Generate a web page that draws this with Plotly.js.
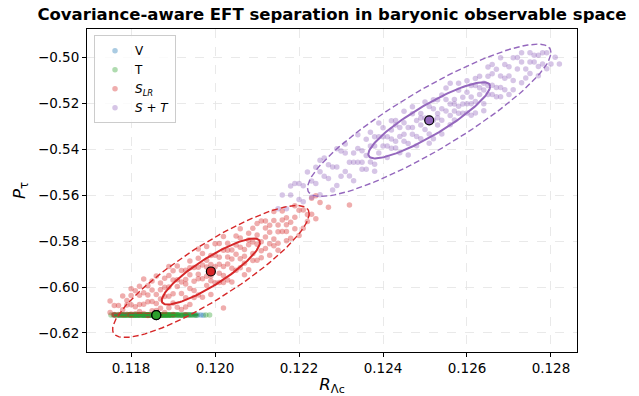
<!DOCTYPE html>
<html><head><meta charset="utf-8">
<script src="https://cdn.plot.ly/plotly-3.0.1.min.js"></script>
<style>html,body{margin:0;padding:0;background:#fff}</style>
</head><body><div id="chart" style="width:639px;height:396px"></div>
<script>
// ---- data ----
const legendNames = ["V", "T", "<i>S</i><sub><i>LR</i></sub>", "<i>S</i> + <i>T</i>"];
const meanR = [0.1186, 0.1186, 0.1199, 0.1251];
const meanP = [-0.6122, -0.6122, -0.5932, -0.5273];
const sigmaR = [0.0005, 0.0005, 0.00117, 0.00145];
const sigmaP = [0.00008, 0.00008, 0.01438, 0.0166];
const corrRP = [0.5, 0.5, 0.875, 0.888];

const vPoints = [[0.11760,-0.6122],[0.11772,-0.6122],[0.11785,-0.6121],[0.11797,-0.6122],[0.11808,-0.6123],[0.11818,-0.6122],[0.11829,-0.6122],[0.11839,-0.6121],[0.11848,-0.6122],[0.11857,-0.6122],[0.11866,-0.6123],[0.11875,-0.6122],[0.11884,-0.6122],[0.11893,-0.6121],[0.11902,-0.6122],[0.11911,-0.6122],[0.11920,-0.6123],[0.11929,-0.6122],[0.11938,-0.6122],[0.11946,-0.6121],[0.11953,-0.6122],[0.11959,-0.6122],[0.11966,-0.6122],[0.11972,-0.6123]];

const tPoints = [[0.11752,-0.6122],[0.11758,-0.6122],[0.11761,-0.6121],[0.11767,-0.6122],[0.11769,-0.6123],[0.11774,-0.6122],[0.11776,-0.6122],[0.11780,-0.6121],[0.11781,-0.6122],[0.11785,-0.6122],[0.11787,-0.6123],[0.11790,-0.6122],[0.11792,-0.6122],[0.11795,-0.6121],[0.11797,-0.6122],[0.11800,-0.6122],[0.11802,-0.6123],[0.11805,-0.6122],[0.11807,-0.6122],[0.11810,-0.6121],[0.11812,-0.6122],[0.11813,-0.6122],[0.11816,-0.6123],[0.11819,-0.6122],[0.11821,-0.6122],[0.11824,-0.6121],[0.11826,-0.6122],[0.11828,-0.6122],[0.11831,-0.6123],[0.11833,-0.6122],[0.11836,-0.6122],[0.11838,-0.6121],[0.11841,-0.6122],[0.11843,-0.6122],[0.11846,-0.6123],[0.11848,-0.6122],[0.11851,-0.6122],[0.11853,-0.6121],[0.11856,-0.6122],[0.11858,-0.6122],[0.11861,-0.6123],[0.11863,-0.6122],[0.11866,-0.6122],[0.11869,-0.6121],[0.11872,-0.6122],[0.11874,-0.6122],[0.11877,-0.6123],[0.11880,-0.6122],[0.11883,-0.6122],[0.11886,-0.6121],[0.11889,-0.6122],[0.11892,-0.6122],[0.11895,-0.6123],[0.11898,-0.6122],[0.11902,-0.6122],[0.11906,-0.6121],[0.11910,-0.6122],[0.11914,-0.6122],[0.11919,-0.6123],[0.11924,-0.6122],[0.11929,-0.6122],[0.11935,-0.6121],[0.11941,-0.6122],[0.11948,-0.6122],[0.11956,-0.6123],[0.11978,-0.6122],[0.11987,-0.6122],
[0.11778,-0.6122],[0.11793,-0.6122],[0.11808,-0.6122],[0.11818,-0.6121],[0.11827,-0.6122],[0.11835,-0.6123],[0.11844,-0.6122],[0.11852,-0.6122],[0.11860,-0.6121],[0.11868,-0.6122],[0.11876,-0.6122],[0.11884,-0.6123],[0.11893,-0.6122],[0.11901,-0.6122],[0.11912,-0.6121],[0.11922,-0.6122],[0.11932,-0.6122],[0.11944,-0.6122],[0.11815,-0.6122],[0.11840,-0.6122],[0.11865,-0.6122],[0.11888,-0.6122],[0.11771,-0.6122],[0.11800,-0.6121],
[0.11763,-0.6122],[0.11777,-0.6121],[0.11783,-0.6123],[0.11789,-0.6122],[0.11796,-0.6121],[0.11803,-0.6122],[0.11809,-0.6123],[0.11814,-0.6122],[0.11820,-0.6121],[0.11825,-0.6122],[0.11830,-0.6122],[0.11834,-0.6121],[0.11839,-0.6123],[0.11842,-0.6122],[0.11847,-0.6121],[0.11850,-0.6122],[0.11855,-0.6123],[0.11859,-0.6122],[0.11862,-0.6121],[0.11867,-0.6122],[0.11871,-0.6123],[0.11875,-0.6122],[0.11879,-0.6121],[0.11882,-0.6122],[0.11887,-0.6122],[0.11891,-0.6123],[0.11896,-0.6122],[0.11900,-0.6121],[0.11905,-0.6122],[0.11909,-0.6122],[0.11917,-0.6123],[0.11927,-0.6122],[0.11938,-0.6121],[0.11952,-0.6122],[0.11845,-0.6122],[0.11857,-0.6122],[0.11870,-0.6122],[0.11832,-0.6122],[0.11822,-0.6122],[0.11881,-0.6122]];

const sLRPoints = [[0.1175,-0.6111],[0.1176,-0.6080],[0.1177,-0.6120],[0.1178,-0.6039],[0.1179,-0.6118],[0.1179,-0.6058],[0.1180,-0.6077],[0.1180,-0.6117],[0.1181,-0.6016],[0.1181,-0.6086],[0.1182,-0.6106],[0.1182,-0.6036],[0.1183,-0.5965],[0.1183,-0.6075],[0.1183,-0.6115],[0.1184,-0.6034],[0.1184,-0.5994],[0.1185,-0.6063],[0.1185,-0.6013],[0.1185,-0.6103],[0.1186,-0.5952],[0.1186,-0.6032],[0.1187,-0.6092],[0.1187,-0.5982],[0.1187,-0.6052],[0.1188,-0.6001],[0.1188,-0.6111],[0.1189,-0.5950],[0.1189,-0.6040],[0.1189,-0.6000],[0.1190,-0.6069],[0.1190,-0.5969],[0.1191,-0.5998],[0.1191,-0.6088],[0.1191,-0.5908],[0.1192,-0.5978],[0.1192,-0.6028],[0.1193,-0.5927],[0.1193,-0.6047],[0.1193,-0.5987],[0.1194,-0.5946],[0.1194,-0.6076],[0.1194,-0.5886],[0.1195,-0.5975],[0.1195,-0.5915],[0.1195,-0.6015],[0.1196,-0.5944],[0.1196,-0.6034],[0.1196,-0.5874],[0.1197,-0.5964],[0.1197,-0.5904],[0.1198,-0.5913],[0.1198,-0.5993],[0.1198,-0.5823],[0.1199,-0.5952],[0.1199,-0.5862],[0.1199,-0.6032],[0.1200,-0.5911],[0.1200,-0.5981],[0.1201,-0.5870],[0.1201,-0.5940],[0.1201,-0.5810],[0.1202,-0.5910],[0.1202,-0.5840],[0.1203,-0.5969],[0.1203,-0.5869],[0.1203,-0.5809],[0.1204,-0.5878],[0.1204,-0.5918],[0.1205,-0.5817],[0.1205,-0.5927],[0.1206,-0.5826],[0.1206,-0.5876],[0.1206,-0.5746],[0.1207,-0.5896],[0.1207,-0.5836],[0.1208,-0.5765],[0.1208,-0.5925],[0.1209,-0.5804],[0.1209,-0.5854],[0.1210,-0.5773],[0.1210,-0.5883],[0.1211,-0.5802],[0.1211,-0.5712],[0.1212,-0.5832],[0.1212,-0.5742],[0.1213,-0.5761],[0.1213,-0.5861],[0.1214,-0.5710],[0.1214,-0.5790],[0.1215,-0.5809],[0.1215,-0.5729],[0.1216,-0.5668],[0.1216,-0.5758],[0.1217,-0.5798],[0.1217,-0.5698],[0.1218,-0.5717],[0.1219,-0.5646],[0.1219,-0.5746],[0.1220,-0.5775],[0.1221,-0.5664],[0.1222,-0.5684],[0.1223,-0.5613],[0.1224,-0.5702],[0.1225,-0.5631],[0.1227,-0.5652],[0.1232,-0.5642],[0.1202,-0.6091],
[0.1176,-0.6122],[0.1178,-0.6121],[0.1180,-0.6123],[0.1182,-0.6120],[0.1184,-0.6122],[0.1187,-0.6121],[0.1190,-0.6119],[0.1193,-0.6121],
[0.1190,-0.6029],[0.1192,-0.5928],[0.1194,-0.6006],[0.1196,-0.5914],[0.1198,-0.5953],[0.1200,-0.5861],[0.1202,-0.5950],[0.1204,-0.5838],[0.1206,-0.5916],[0.1208,-0.5815],[0.1210,-0.5813],[0.1212,-0.5712],[0.1214,-0.5820],[0.1184,-0.6124],[0.1186,-0.6072],[0.1188,-0.5961],[0.1180,-0.6037],[0.1178,-0.6099],[0.1203,-0.5899],[0.1205,-0.5777],[0.1197,-0.5854],[0.1199,-0.5902],[0.1201,-0.5980],[0.1193,-0.6087],[0.1207,-0.5946],[0.1209,-0.5744],[0.1211,-0.5842],[0.1213,-0.5731],[0.1215,-0.5759],[0.1217,-0.5728],[0.1218,-0.5787],[0.1220,-0.5665],[0.1222,-0.5714],[0.1182,-0.6076],[0.1176,-0.6120],
[0.1179,-0.6078],[0.1181,-0.6116],[0.1182,-0.5996],[0.1184,-0.6064],[0.1185,-0.5973],[0.1186,-0.6102],[0.1187,-0.6012],[0.1188,-0.6041],[0.1189,-0.6090],[0.1190,-0.5929],[0.1191,-0.5968],[0.1192,-0.6098],[0.1193,-0.5967],[0.1194,-0.5916],[0.1195,-0.6045],[0.1196,-0.5964],[0.1197,-0.6044],[0.1198,-0.5883],[0.1199,-0.5972],[0.1200,-0.5811],[0.1201,-0.5900],[0.1202,-0.5980],[0.1203,-0.5839],[0.1204,-0.5978],[0.1205,-0.5857],[0.1206,-0.5786],[0.1207,-0.5866],[0.1208,-0.5795],[0.1209,-0.5884],[0.1210,-0.5723],[0.1211,-0.5872],[0.1212,-0.5782],[0.1213,-0.5811],[0.1214,-0.5670],[0.1215,-0.5839],[0.1216,-0.5708],[0.1217,-0.5758],[0.1219,-0.5696],[0.1221,-0.5744],[0.1223,-0.5683],[0.1224,-0.5602],[0.1183,-0.6025],[0.1180,-0.6007],[0.1177,-0.6080],[0.1175,-0.6061],[0.1196,-0.5834],[0.1202,-0.5780],[0.1189,-0.5910]];

const sTPoints = [[0.1215,-0.5659],[0.1216,-0.5599],[0.1217,-0.5659],[0.1218,-0.5599],[0.1219,-0.5548],[0.1220,-0.5618],[0.1221,-0.5558],[0.1222,-0.5498],[0.1223,-0.5608],[0.1224,-0.5548],[0.1225,-0.5497],[0.1225,-0.5597],[0.1226,-0.5437],[0.1227,-0.5527],[0.1227,-0.5467],[0.1228,-0.5577],[0.1229,-0.5477],[0.1229,-0.5397],[0.1230,-0.5517],[0.1231,-0.5416],[0.1231,-0.5496],[0.1232,-0.5456],[0.1233,-0.5536],[0.1233,-0.5416],[0.1234,-0.5336],[0.1234,-0.5456],[0.1235,-0.5406],[0.1235,-0.5486],[0.1236,-0.5356],[0.1236,-0.5426],[0.1237,-0.5455],[0.1237,-0.5325],[0.1238,-0.5385],[0.1238,-0.5495],[0.1239,-0.5345],[0.1239,-0.5415],[0.1240,-0.5385],[0.1240,-0.5305],[0.1241,-0.5435],[0.1241,-0.5345],[0.1242,-0.5355],[0.1242,-0.5395],[0.1243,-0.5294],[0.1243,-0.5364],[0.1244,-0.5414],[0.1244,-0.5304],[0.1245,-0.5334],[0.1245,-0.5234],[0.1246,-0.5304],[0.1246,-0.5374],[0.1247,-0.5244],[0.1247,-0.5334],[0.1248,-0.5274],[0.1248,-0.5384],[0.1249,-0.5293],[0.1249,-0.5243],[0.1250,-0.5313],[0.1250,-0.5193],[0.1251,-0.5263],[0.1251,-0.5333],[0.1252,-0.5223],[0.1252,-0.5273],[0.1253,-0.5293],[0.1253,-0.5183],[0.1254,-0.5223],[0.1254,-0.5333],[0.1255,-0.5232],[0.1255,-0.5182],[0.1256,-0.5252],[0.1256,-0.5112],[0.1257,-0.5182],[0.1257,-0.5272],[0.1258,-0.5212],[0.1258,-0.5142],[0.1259,-0.5242],[0.1259,-0.5172],[0.1260,-0.5101],[0.1260,-0.5201],[0.1261,-0.5171],[0.1261,-0.5251],[0.1262,-0.5121],[0.1262,-0.5191],[0.1263,-0.5081],[0.1263,-0.5161],[0.1264,-0.5201],[0.1264,-0.5111],[0.1265,-0.5121],[0.1265,-0.5041],[0.1266,-0.5160],[0.1266,-0.5070],[0.1267,-0.5130],[0.1267,-0.5050],[0.1268,-0.5170],[0.1268,-0.5080],[0.1269,-0.5090],[0.1269,-0.5140],[0.1270,-0.5040],[0.1271,-0.5100],[0.1271,-0.5000],[0.1272,-0.5049],[0.1273,-0.5109],[0.1273,-0.5019],[0.1274,-0.5049],[0.1275,-0.4979],[0.1275,-0.5069],[0.1276,-0.5019],[0.1277,-0.5079],[0.1277,-0.4989],[0.1278,-0.5028],[0.1279,-0.4978],[0.1280,-0.5028],[0.1281,-0.4998],[0.1282,-0.5028],
[0.1221,-0.5628],[0.1226,-0.5517],[0.1231,-0.5376],[0.1236,-0.5486],[0.1240,-0.5345],[0.1243,-0.5394],[0.1245,-0.5284],[0.1247,-0.5304],[0.1249,-0.5353],[0.1251,-0.5213],[0.1252,-0.5353],[0.1254,-0.5163],[0.1256,-0.5202],[0.1258,-0.5242],[0.1260,-0.5151],[0.1262,-0.5241],[0.1264,-0.5141],[0.1266,-0.5030],[0.1268,-0.5130],[0.1270,-0.5160],[0.1272,-0.4999],[0.1274,-0.5089],[0.1276,-0.4989],[0.1278,-0.4978],[0.1233,-0.5456],[0.1238,-0.5345],[0.1242,-0.5275],[0.1246,-0.5424],[0.1253,-0.5243],[0.1257,-0.5232],[0.1261,-0.5121],[0.1265,-0.5161],[0.1269,-0.5030],[0.1229,-0.5557],[0.1224,-0.5478],[0.1218,-0.5559],
[0.1220,-0.5548],[0.1223,-0.5538],[0.1225,-0.5447],[0.1228,-0.5477],[0.1230,-0.5407],[0.1232,-0.5516],[0.1234,-0.5396],[0.1235,-0.5456],[0.1237,-0.5385],[0.1239,-0.5285],[0.1241,-0.5385],[0.1242,-0.5315],[0.1244,-0.5344],[0.1245,-0.5364],[0.1247,-0.5214],[0.1248,-0.5344],[0.1250,-0.5263],[0.1251,-0.5373],[0.1252,-0.5183],[0.1254,-0.5273],[0.1255,-0.5132],[0.1256,-0.5292],[0.1257,-0.5202],[0.1258,-0.5112],[0.1259,-0.5202],[0.1261,-0.5201],[0.1262,-0.5091],[0.1263,-0.5131],[0.1264,-0.5231],[0.1265,-0.5081],[0.1267,-0.5170],[0.1268,-0.5000],[0.1270,-0.5080],[0.1271,-0.5140],[0.1273,-0.4979],[0.1275,-0.5019],[0.1277,-0.5039],[0.1279,-0.5048],[0.1249,-0.5263],[0.1253,-0.5262],[0.1260,-0.5241],[0.1266,-0.5120],[0.1243,-0.5274],[0.1238,-0.5465]];

const xTicks = [0.118, 0.120, 0.122, 0.124, 0.126, 0.128];
const yTicks = [-0.50, -0.52, -0.54, -0.56, -0.58, -0.60, -0.62];

// ---- styling ----
const colors = ['#1f77b4', '#2ca02c', '#d62728', '#9467bd'];
const pointSets = [vPoints, tPoints, sLRPoints, sTPoints];
const FONT = 'DejaVu Sans, Arial, sans-serif';

function ellipse(i, k) {
  const xs = [], ys = [];
  const s = Math.sqrt(1 - corrRP[i] * corrRP[i]);
  for (let j = 0; j <= 120; j++) {
    const t = 2 * Math.PI * j / 120;
    xs.push(meanR[i] + k * sigmaR[i] * Math.cos(t));
    ys.push(meanP[i] + k * sigmaP[i] * (corrRP[i] * Math.cos(t) + s * Math.sin(t)));
  }
  return {xs, ys};
}

const traces = [];
pointSets.forEach((pts, i) => {
  traces.push({
    type: 'scatter', mode: 'markers', name: legendNames[i],
    x: pts.map(p => p[0]), y: pts.map(p => p[1]),
    marker: {color: colors[i], size: 5.5, opacity: 0.38, line: {width: 0}},
    hoverinfo: 'skip'
  });
});
for (let i = 0; i < 4; i++) {
  const e1 = ellipse(i, 1), e2 = ellipse(i, 2);
  traces.push({type: 'scatter', mode: 'lines', x: e1.xs, y: e1.ys, showlegend: false,
    line: {color: colors[i], width: 2}, hoverinfo: 'skip'});
  traces.push({type: 'scatter', mode: 'lines', x: e2.xs, y: e2.ys, showlegend: false,
    line: {color: colors[i], width: 1.4, dash: '6px,3px'}, hoverinfo: 'skip'});
}
for (let i = 0; i < 4; i++) {
  traces.push({type: 'scatter', mode: 'markers', x: [meanR[i]], y: [meanP[i]], showlegend: false,
    marker: {color: colors[i], size: 9, line: {color: '#000', width: 1.2}}, hoverinfo: 'skip'});
}

const axisCommon = {
  showline: true, linecolor: '#000', linewidth: 1, mirror: true,
  ticks: 'outside', ticklen: 4, tickwidth: 1, tickcolor: '#000',
  showgrid: true, gridcolor: '#e3e3e3', gridwidth: 0.8, griddash: 'dash',
  zeroline: false, tickfont: {family: FONT, size: 13.5, color: '#000'}
};

const layout = {
  width: 639, height: 396,
  margin: {l: 87, r: 62, t: 29, b: 44},
  paper_bgcolor: '#fff', plot_bgcolor: '#fff',
  font: {family: FONT, color: '#000'},
  title: {text: 'Covariance-aware EFT separation in baryonic observable space',
    font: {family: FONT, size: 16.5, weight: 'bold', color: '#000'},
    x: 0.5, xref: 'paper', xanchor: 'center', y: 1 - 14/396, yref: 'container', yanchor: 'middle'},
  xaxis: Object.assign({}, axisCommon, {
    range: [0.11695, 0.12862], tickvals: xTicks, ticktext: xTicks.map(v => v.toFixed(3)),
    title: {text: '<i>R</i><sub>Λ<span style="font-size:11px">c</span></sub>', font: {family: FONT, size: 16.5}, standoff: 5}
  }),
  yaxis: Object.assign({}, axisCommon, {
    range: [-0.6283, -0.4875], tickvals: yTicks, ticktext: yTicks.map(v => '\u2212' + Math.abs(v).toFixed(2)),
    title: {text: '<i>P</i><sub>τ</sub>', font: {family: FONT, size: 16.5}, standoff: 8}
  }),
  legend: {x: 0.0143, y: 0.981, xanchor: 'left', yanchor: 'top',
    bgcolor: 'rgba(255,255,255,0.8)', bordercolor: '#ccc', borderwidth: 1,
    font: {family: FONT, size: 12, color: '#000'}, tracegroupgap: 0},
  showlegend: true
};

Plotly.newPlot('chart', traces, layout, {staticPlot: true, displayModeBar: false});
</script></body></html>
